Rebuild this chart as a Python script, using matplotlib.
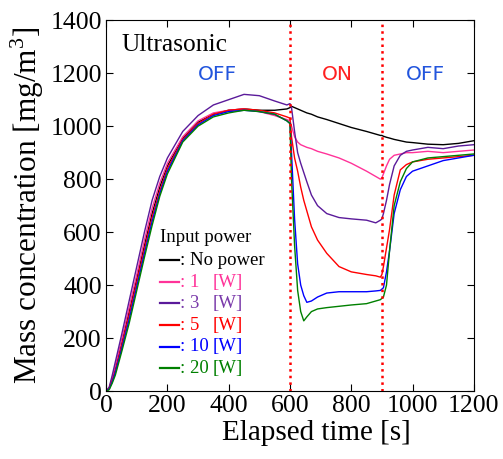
import matplotlib

matplotlib.use("Agg")
import matplotlib.pyplot as plt
from matplotlib.lines import Line2D

plt.rcParams["font.family"] = ["Liberation Serif", "DejaVu Serif"]
plt.rcParams["mathtext.fontset"] = "custom"
plt.rcParams["mathtext.rm"] = "Liberation Serif"

# Shared time grid [s]
time_s = [0, 10, 20, 30, 50, 75, 100, 125, 150, 175, 200, 250, 300, 350, 400,
          450, 500, 550, 590, 600, 605, 615, 625, 635, 645, 655, 670, 690, 720,
          760, 800, 850, 880, 895, 900, 905, 915, 925, 940, 960, 980, 1000,
          1050, 1100, 1150, 1200]

no_power = [0, 10, 45, 85, 180, 300, 425, 550, 670, 770, 850, 955, 1015, 1045,
            1060, 1065, 1060, 1060, 1065, 1070, 1075, 1070, 1065, 1060, 1055,
            1050, 1045, 1035, 1025, 1010, 995, 980, 970, 965, 965, 962, 958,
            955, 950, 945, 940, 938, 932, 930, 935, 945]
p1w = [0, 12, 50, 95, 190, 315, 440, 570, 690, 785, 860, 960, 1020, 1050, 1060,
       1065, 1055, 1040, 1025, 1020, 1000, 960, 940, 930, 925, 920, 915, 905,
       895, 880, 860, 830, 810, 800, 805, 820, 850, 875, 890, 895, 900, 900,
       905, 900, 905, 910]
p3w = [0, 15, 60, 110, 210, 340, 470, 600, 720, 810, 880, 980, 1040, 1080,
       1100, 1120, 1115, 1095, 1080, 1085, 1070, 980, 900, 860, 825, 790, 740,
       700, 670, 655, 650, 645, 635, 645, 650, 670, 720, 780, 850, 890, 905,
       910, 920, 915, 925, 930]
p5w = [0, 10, 40, 75, 165, 285, 410, 535, 655, 755, 840, 950, 1010, 1045, 1060,
       1065, 1060, 1050, 1035, 1030, 960, 880, 830, 770, 720, 680, 620, 570,
       520, 470, 450, 440, 435, 430, 440, 470, 540, 610, 740, 835, 855, 865,
       875, 880, 885, 890]
p10w = [0, 8, 35, 70, 155, 270, 395, 520, 640, 745, 830, 945, 1005, 1040, 1055,
        1060, 1055, 1045, 1020, 1010, 900, 650, 480, 400, 360, 335, 340, 355,
        370, 375, 375, 375, 378, 380, 385, 390, 450, 530, 670, 760, 810, 830,
        850, 870, 880, 890]
p20w = [0, 5, 30, 60, 145, 255, 380, 505, 625, 735, 820, 940, 1000, 1035, 1050,
        1060, 1055, 1045, 1020, 1010, 800, 550, 380, 300, 265, 280, 300, 310,
        315, 320, 325, 330, 340, 345, 350, 355, 400, 530, 700, 790, 840, 865,
        880, 885, 890, 895]

series = [no_power, p1w, p3w, p5w, p10w, p20w]
line_colors = ["#000000", "#ff3399", "#5a1a9a", "#ff0000", "#0000ff", "#008000"]
text_colors = ["#000000", "#ff3399", "#7a3aaa", "#ff0000", "#0000ff", "#008000"]
legend_labels = [": No power", ": 1", ": 3", ": 5", ": 10", ": 20"]
switch_times = [600, 900]
phase_labels = ["OFF", "ON", "OFF"]
phase_centers = [362, 756, 1043]
phase_colors = ["#2255dd", "#ff2020", "#2255dd"]

fig = plt.figure(figsize=(5.03, 4.59), dpi=100)
ax = fig.add_axes([0.211, 0.148, 0.731, 0.808])

for values, color in zip(series, line_colors):
    ax.plot(time_s, values, color=color, lw=1.0)

for t in switch_times:
    ax.axvline(t, color="#ff0000", ls=":", lw=1.8)

ax.set_xlim(0, 1200)
ax.set_ylim(0, 1400)
ax.set_xticks(range(0, 1201, 200))
ax.set_yticks(range(0, 1401, 200))
ax.tick_params(direction="in", top=True, right=True, length=5, labelsize=18.5, pad=3)
ax.set_xlabel("Elapsed time [s]", fontsize=21, labelpad=2, x=0.573)
ax.set_ylabel("Mass concentration [mg/m$^3$]", fontsize=22.5, labelpad=3)

ax.text(0.043, 0.933, "Ultrasonic", transform=ax.transAxes, fontsize=18.4,
        va="center", ha="left")
for label, tc, color in zip(phase_labels, phase_centers, phase_colors):
    ax.text(tc, 1196, label, color=color, fontsize=14.5, ha="center",
            va="center", family="DejaVu Sans")

# hand-built legend
ax.text(0.147, 0.415, "Input power", transform=ax.transAxes, fontsize=13.5,
        va="center", ha="left")
rows_y = [0.353, 0.294, 0.237, 0.178, 0.119, 0.062]
for y, lc, tc, label in zip(rows_y, line_colors, text_colors, legend_labels):
    ax.add_line(Line2D([0.147, 0.199], [y, y], transform=ax.transAxes,
                       color=lc, lw=1.6))
    ax.text(0.201, y, label, transform=ax.transAxes, fontsize=13.5, color=tc,
            va="center", ha="left")
    if label != ": No power":
        ax.text(0.290, y, "[W]", transform=ax.transAxes, fontsize=13.5,
                color=tc, va="center", ha="left")

fig.savefig("out.png", dpi=100)
plt.close(fig)
